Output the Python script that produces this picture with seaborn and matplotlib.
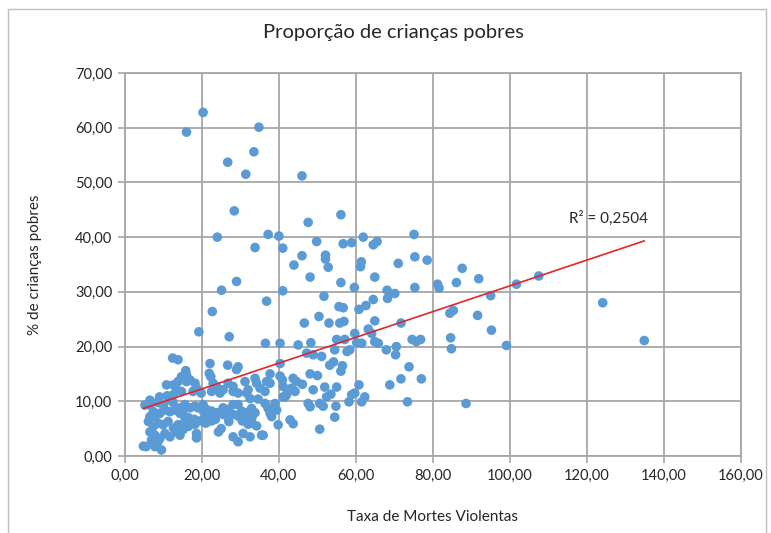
import numpy as np
import pandas as pd
import seaborn as sns
import matplotlib.pyplot as plt
from matplotlib.patches import Rectangle

# taxa de mortes violentas (x) e % de criancas pobres (y)
taxa_mortes = [
    16.0, 20.3, 26.7, 28.4, 31.4, 33.5, 34.8, 46.0,
    24.0, 37.2, 40.0, 33.8, 41.0, 47.6, 49.8, 56.1, 56.7, 58.9, 61.9, 64.5, 65.5, 75.1,
    46.0, 43.9, 52.1, 52.1, 52.8, 48.1, 61.4, 61.2, 64.9, 71.0, 75.3, 78.5,
    56.1, 59.6, 41.0, 36.8, 51.7, 68.1, 70.1, 68.2, 75.3, 81.2, 81.6, 86.1, 64.5, 62.6, 55.6, 56.7, 60.8,
    29.0, 25.1, 22.7, 19.2, 27.1, 36.5, 40.3, 12.4, 13.8, 22.1, 26.7, 15.8, 29.0,
    87.6, 91.9, 101.7, 107.5, 95.0, 124.1, 84.4, 85.3, 91.6, 95.2, 84.6, 84.8, 99.1, 134.9, 88.6,
    64.9, 50.4, 46.6, 53.0, 55.8, 56.9, 71.7,
    45.0, 48.3, 55.0, 57.1, 59.7, 60.2, 61.5, 63.2, 64.1, 64.9, 65.8, 67.9, 70.5, 70.3, 74.6, 76.8, 75.7,
    47.2, 48.9, 51.1, 54.5, 57.7, 58.4, 40.3, 37.7, 40.3, 40.9, 53.2, 54.2, 56.5, 56.1, 48.1, 50.0,
    43.7, 44.6, 46.1, 36.8, 35.1, 51.9, 55.0, 53.5, 48.9, 43.3, 44.2, 41.1, 42.0, 60.8, 59.7, 58.9,
    62.3, 61.5, 68.8, 71.7, 73.8, 77.0, 73.4, 58.2, 54.8, 47.6, 48.1, 50.6, 51.5, 54.5, 50.6, 39.0,
    38.5, 38.1, 39.8, 42.9, 43.7, 35.9, 41.6,
    34.2, 36.4, 37.7, 41.1, 52.4, 32.5, 32.9, 36.4, 37.2, 39.4, 37.7,
    34.2, 35.5, 32.5,
    29.4, 21.9, 22.3, 16.0, 16.9, 18.2, 18.6, 17.7, 22.9, 23.8, 22.5, 24.7, 25.5, 26.8, 28.1,
    28.1, 29.4, 31.2, 32.0, 33.8, 31.6,
    14.3, 15.6, 15.1, 16.9, 18.2, 19.0, 20.3, 21.2, 22.5, 23.8, 25.5, 26.8, 28.1, 29.4, 30.3, 31.2,
    32.5, 33.8, 34.6,
    15.1, 16.5, 15.6, 18.0, 18.2, 19.5, 20.8, 22.0, 22.5, 23.5, 25.5, 26.8, 28.1, 29.4, 30.5, 31.2,
    32.0, 33.0,
    16.5, 18.6, 24.3, 25.0, 28.1, 30.7, 33.0, 27.0, 21.0,
    14.7, 16.0, 13.8, 10.8, 12.6, 13.4, 14.7, 12.6, 6.5, 5.2, 6.5, 7.4, 6.5, 7.8, 9.1,
    10.4, 11.7, 13.0, 14.3, 7.4, 8.6, 9.9, 11.2, 12.6, 13.8, 15.1, 7.8, 9.1, 10.4, 11.7,
    13.4, 14.3, 4.8, 5.5, 9.5, 6.1, 6.5, 8.6, 7.8,
    8.5, 10.0, 11.5, 12.5, 9.0, 11.0, 19.8, 20.5, 18.6, 29.4, 6.9,
]
criancas_pobres = [
    59.2, 62.8, 53.7, 44.8, 51.5, 55.6, 60.1, 51.2,
    40.0, 40.5, 40.2, 38.1, 38.0, 42.7, 39.2, 44.1, 38.8, 39.0, 40.0, 38.6, 39.2, 40.5,
    36.6, 34.9, 36.7, 36.0, 34.5, 32.7, 35.5, 34.6, 32.7, 35.2, 36.4, 35.8,
    31.7, 30.8, 30.2, 28.3, 29.2, 30.3, 29.7, 28.8, 30.8, 31.4, 30.7, 31.7, 28.6, 27.5, 27.3, 27.1, 26.8,
    31.9, 30.3, 26.4, 22.7, 21.8, 20.6, 20.6, 17.9, 17.6, 16.9, 16.6, 15.6, 15.8,
    34.3, 32.4, 31.4, 32.9, 29.3, 28.0, 26.1, 26.6, 25.7, 23.0, 21.6, 19.6, 20.2, 21.1, 9.6,
    24.7, 25.5, 24.3, 24.3, 24.3, 24.6, 24.3,
    20.3, 20.7, 21.3, 21.3, 22.4, 20.7, 20.6, 23.2, 22.4, 20.9, 20.6, 19.4, 20.0, 18.5, 21.3, 21.3, 20.9,
    18.8, 18.5, 18.2, 19.4, 19.1, 19.4, 16.9, 15.0, 14.6, 13.9, 16.6, 17.2, 16.5, 15.5, 15.0, 14.7,
    14.2, 13.6, 13.1, 13.6, 12.4, 12.6, 12.6, 11.3, 12.1, 12.4, 11.8, 10.8, 11.2, 13.0, 11.5, 11.2,
    10.8, 9.9, 13.0, 14.1, 16.3, 14.1, 9.9, 9.9, 9.1, 9.6, 9.0, 9.6, 9.1, 7.1, 4.9, 9.6,
    8.4, 7.2, 5.7, 6.6, 5.9, 3.8, 10.8,
    13.3, 11.8, 13.3, 12.7, 10.8, 10.5, 8.7, 9.6, 8.7, 8.4, 7.8,
    5.5, 3.8, 3.5,
    16.3, 15.1, 14.5, 13.6, 13.9, 13.3, 12.4, 11.8, 13.3, 12.7, 11.8, 11.5, 12.1, 13.3, 12.7,
    11.8, 11.5, 13.6, 12.1, 14.2, 11.5,
    8.8, 9.4, 8.5, 8.8, 9.1, 8.8, 9.4, 8.5, 8.2, 7.9, 8.8, 8.5, 9.4, 9.4, 8.2, 7.9,
    8.2, 7.9, 10.4,
    7.6, 7.0, 6.4, 6.7, 5.8, 6.4, 7.0, 7.6, 6.4, 6.7, 7.6, 7.0, 7.6, 7.3, 6.4, 7.3,
    5.8, 7.0,
    5.4, 4.1, 4.4, 5.0, 3.5, 4.1, 6.0, 6.3, 6.0,
    14.5, 14.8, 13.6, 13.0, 13.0, 12.1, 11.8, 11.2, 10.2, 9.3, 9.3, 8.1, 7.2, 7.2, 7.8,
    8.4, 8.1, 8.4, 7.8, 5.4, 6.0, 5.7, 6.3, 5.1, 5.7, 4.8, 3.8, 3.2, 4.1, 3.5,
    4.4, 3.8, 1.8, 1.7, 1.1, 6.3, 4.4, 2.6, 1.7,
    9.8, 9.2, 10.3, 9.8, 10.8, 11.0, 11.5, 8.0, 3.3, 2.6, 2.9,
]

x_ticks = [0, 20, 40, 60, 80, 100, 120, 140, 160]
x_tick_labels = ["0,00", "20,00", "40,00", "60,00", "80,00", "100,00", "120,00", "140,00", "160,00"]
y_ticks = [0, 10, 20, 30, 40, 50, 60, 70]
y_tick_labels = ["0,00", "10,00", "20,00", "30,00", "40,00", "50,00", "60,00", "70,00"]
r2_label = "R² = 0,2504"

df = pd.DataFrame({"taxa": taxa_mortes, "pobres": criancas_pobres})

sns.set_style("white")
plt.rcParams["font.family"] = ["Lato", "DejaVu Sans"]

fig = plt.figure(figsize=(7.71, 5.33), dpi=100)
ax = fig.add_axes([0.162, 0.1445, 0.799, 0.7185])

grid_col = "#A6A6A6"
ax.grid(True, color=grid_col, linewidth=1.3)
ax.set_axisbelow(True)

sns.scatterplot(data=df, x="taxa", y="pobres", ax=ax, color="#5B9BD5",
                s=48, edgecolor="none", zorder=3)
sns.regplot(data=df, x="taxa", y="pobres", ax=ax, scatter=False, ci=None,
            truncate=True, color="#E0262B", line_kws={"linewidth": 1.2, "zorder": 4})

ax.set_xlim(0, 160)
ax.set_ylim(0, 70)
ax.set_xticks(x_ticks)
ax.set_xticklabels(x_tick_labels)
ax.set_yticks(y_ticks)
ax.set_yticklabels(y_tick_labels)
ax.tick_params(axis="both", which="both", direction="out", length=5, width=1.2,
               color=grid_col, labelsize=10.5, labelcolor="#262626", pad=4, bottom=True, left=True)
for side in ["top", "right", "left", "bottom"]:
    ax.spines[side].set_color(grid_col)
    ax.spines[side].set_linewidth(1.3)

ax.set_xlabel("Taxa de Mortes Violentas", fontsize=11, color="#262626", labelpad=20)
ax.set_ylabel("% de crianças pobres", fontsize=11, color="#262626", labelpad=24)
fig.suptitle("Proporção de crianças pobres", x=0.51, y=0.955, fontsize=14.5, color="#262626")

ax.text(125.5, 43.5, r2_label, fontsize=11, color="#262626", ha="center", va="center")

fig.patches.append(Rectangle((0.011, -0.01), 0.982, 0.993, transform=fig.transFigure,
                             fill=False, edgecolor="#BFBFBF", linewidth=1.0))

fig.savefig("out.png", dpi=100)
